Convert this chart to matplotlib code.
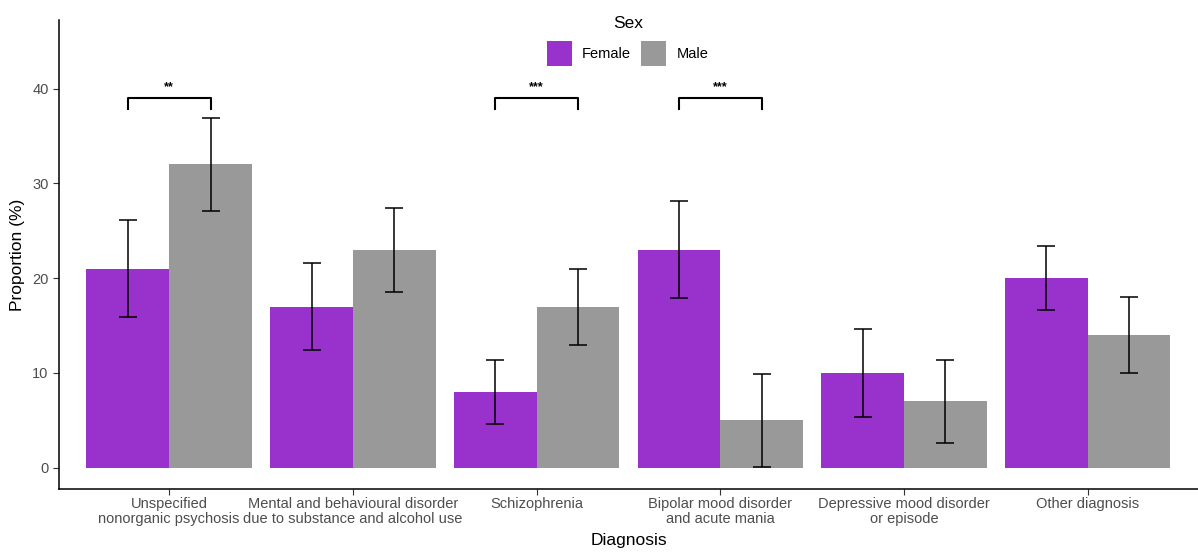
import matplotlib.pyplot as plt
import numpy as np

plt.rcParams['font.family'] = ['Liberation Sans', 'DejaVu Sans']

categories = ['Unspecified\nnonorganic psychosis',
              'Mental and behavioural disorder\ndue to substance and alcohol use',
              'Schizophrenia',
              'Bipolar mood disorder\nand acute mania',
              'Depressive mood disorder\nor episode',
              'Other diagnosis']
female = [21, 17, 8, 23, 10, 20]
female_lo = [15.9, 12.4, 4.6, 17.9, 5.4, 16.6]
female_hi = [26.1, 21.6, 11.4, 28.1, 14.6, 23.4]
male = [32, 23, 17, 5, 7, 14]
male_lo = [27.1, 18.5, 13.0, 0.1, 2.6, 10.0]
male_hi = [36.9, 27.4, 21.0, 9.9, 11.4, 18.0]
# significance brackets: category index, label
sig_idx = [0, 2, 3]
sig_lbl = ['**', '***', '***']
sig_y = 39

purple = '#9932CC'
grey = '#999999'

fig = plt.figure(figsize=(11.98, 5.52), dpi=100)
ax = fig.add_axes([0.0492, 0.1141, 0.9508, 0.8497])

x = np.arange(1, len(categories) + 1)
w = 0.45
ax.bar(x - w / 2, female, width=w, color=purple, label='Female')
ax.bar(x + w / 2, male, width=w, color=grey, label='Male')

fl = np.array(female); fm = np.array(male)
ax.errorbar(x - w / 2, female, yerr=[fl - female_lo, np.array(female_hi) - fl],
            fmt='none', ecolor='black', elinewidth=1.1, capsize=6.5, capthick=1.1)
ax.errorbar(x + w / 2, male, yerr=[fm - male_lo, np.array(male_hi) - fm],
            fmt='none', ecolor='black', elinewidth=1.1, capsize=6.5, capthick=1.1)

for i, lbl in zip(sig_idx, sig_lbl):
    xc = x[i]
    ax.plot([xc - w / 2, xc - w / 2, xc + w / 2, xc + w / 2],
            [sig_y - 1.1, sig_y, sig_y, sig_y - 1.1], color='black', lw=1.5)
    ax.text(xc, sig_y + 0.55, lbl, ha='center', va='bottom', fontsize=9, fontweight='bold')

ax.set_xlim(0.4, 6.6)
ax.set_ylim(-2.25, 47.25)
ax.set_xticks(x)
ax.set_xticklabels(categories, fontsize=10.5, color='#4D4D4D', linespacing=1.05)
ax.set_yticks([0, 10, 20, 30, 40])
ax.tick_params(axis='y', labelsize=10.5, labelcolor='#4D4D4D', length=4, color='#333333')
ax.tick_params(axis='x', length=4, color='#333333', pad=2)
ax.spines['top'].set_visible(False)
ax.spines['right'].set_visible(False)
ax.spines['left'].set_linewidth(1.1)
ax.spines['bottom'].set_linewidth(1.1)
ax.set_xlabel('Diagnosis', fontsize=12.5, labelpad=5)
ax.set_ylabel('Proportion (%)', fontsize=12.5, labelpad=5)

# legend: title drawn separately so the gap to the keys matches
fig.text(0.524, 0.958, 'Sex', ha='center', va='center', fontsize=12.5)
fig.legend(loc='center', bbox_to_anchor=(0.524, 0.903), ncol=2,
           frameon=False, fontsize=10.5, handlelength=1.7, borderpad=0,
           handleheight=2.3, columnspacing=0.7, handletextpad=0.7)

fig.savefig('out.png', dpi=100)
